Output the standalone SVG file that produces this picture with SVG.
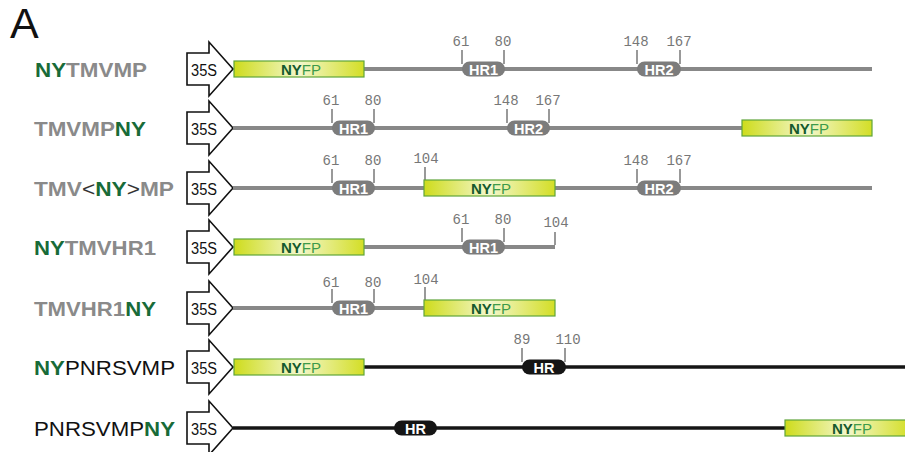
<svg xmlns="http://www.w3.org/2000/svg" width="905" height="452" viewBox="0 0 905 452">
<defs>
<linearGradient id="yfp" x1="0" y1="0" x2="1" y2="0">
<stop offset="0" stop-color="#cedc1c"/>
<stop offset="0.5" stop-color="#f3f7cc"/>
<stop offset="1" stop-color="#d3de26"/>
</linearGradient>
<path id="arrow" d="M187,-16 H209 V-27 L233,0 L209,27 V16 H187 Z"/>
</defs>
<style>
.arr{fill:#fff;stroke:#111;stroke-width:1.6;stroke-linejoin:miter}
.p35{font-family:"Liberation Sans",Arial,sans-serif;font-size:16px;fill:#111}
.lg{stroke:#888;stroke-width:4;fill:none}
.lb{stroke:#151515;stroke-width:3.5;fill:none}
.box{fill:url(#yfp);stroke:#5fa53a;stroke-width:1.2}
.bt{font-family:"Liberation Sans",Arial,sans-serif;font-size:15px;text-anchor:middle;fill:#3d9a4a}
.bt .b{font-weight:bold;fill:#155a2e}
.pg{fill:#7c7c7c}
.pb{fill:#151515}
.pt{font-family:"Liberation Sans",Arial,sans-serif;font-size:14.5px;font-weight:bold;fill:#fff;text-anchor:middle}
.tk{stroke:#555;stroke-width:1.2}
.num{font-family:"Liberation Mono","Courier New",monospace;font-size:14px;fill:#777;text-anchor:middle}
.lab{font-family:"Liberation Sans",Arial,sans-serif;font-size:21px}
.gr{fill:#8a8a8a;font-weight:bold}
.gn{fill:#186b38;font-weight:bold}
.bk{fill:#111}
.dk{fill:#333}
</style>
<text x="10" y="38" font-family="Liberation Sans,Arial,sans-serif" font-size="43" fill="#111">A</text>

<g id="row1" transform="translate(0,69)">
<text class="lab" x="35" y="7.5" textLength="112" lengthAdjust="spacingAndGlyphs"><tspan class="gn">NY</tspan><tspan class="gr">TMVMP</tspan></text>
<use href="#arrow" class="arr"/>
<text class="p35" x="191" y="7" textLength="26" lengthAdjust="spacingAndGlyphs">35S</text>
<line class="lg" x1="364" y1="0" x2="872" y2="0"/>
<rect class="box" x="234" y="-8" width="130" height="16"/>
<text class="bt" x="301" y="5.5"><tspan class="b">NY</tspan>FP</text>
<line class="tk" x1="462" y1="-19" x2="462" y2="-5"/><line class="tk" x1="504" y1="-19" x2="504" y2="-5"/>
<text class="num" x="461" y="-23">61</text><text class="num" x="503" y="-23">80</text>
<rect class="pg" x="462" y="-7.5" width="43" height="15" rx="7.5"/>
<text class="pt" x="483.5" y="5.5">HR1</text>
<line class="tk" x1="637" y1="-19" x2="637" y2="-5"/><line class="tk" x1="680" y1="-19" x2="680" y2="-5"/>
<text class="num" x="636" y="-23">148</text><text class="num" x="679" y="-23">167</text>
<rect class="pg" x="637" y="-7.5" width="44" height="15" rx="7.5"/>
<text class="pt" x="659" y="5.5">HR2</text>
</g>

<g id="row2" transform="translate(0,128)">
<text class="lab" x="34" y="7.5" textLength="112" lengthAdjust="spacingAndGlyphs"><tspan class="gr">TMVMP</tspan><tspan class="gn">NY</tspan></text>
<use href="#arrow" class="arr"/>
<text class="p35" x="191" y="7" textLength="26" lengthAdjust="spacingAndGlyphs">35S</text>
<line class="lg" x1="233" y1="0" x2="742" y2="0"/>
<line class="tk" x1="332" y1="-19" x2="332" y2="-5"/><line class="tk" x1="374" y1="-19" x2="374" y2="-5"/>
<text class="num" x="331" y="-23">61</text><text class="num" x="373" y="-23">80</text>
<rect class="pg" x="332" y="-7.5" width="43" height="15" rx="7.5"/>
<text class="pt" x="353.5" y="5.5">HR1</text>
<line class="tk" x1="507" y1="-19" x2="507" y2="-5"/><line class="tk" x1="549" y1="-19" x2="549" y2="-5"/>
<text class="num" x="506" y="-23">148</text><text class="num" x="548" y="-23">167</text>
<rect class="pg" x="507" y="-7.5" width="43" height="15" rx="7.5"/>
<text class="pt" x="528.5" y="5.5">HR2</text>
<rect class="box" x="742" y="-8" width="130" height="16"/>
<text class="bt" x="809" y="5.5"><tspan class="b">NY</tspan>FP</text>
</g>

<g id="row3" transform="translate(0,188)">
<text class="lab" x="34" y="7.5" textLength="140" lengthAdjust="spacingAndGlyphs"><tspan class="gr">TMV</tspan><tspan class="dk">&lt;</tspan><tspan class="gn">NY</tspan><tspan class="dk">&gt;</tspan><tspan class="gr">MP</tspan></text>
<use href="#arrow" class="arr"/>
<text class="p35" x="191" y="7" textLength="26" lengthAdjust="spacingAndGlyphs">35S</text>
<line class="lg" x1="233" y1="0" x2="872" y2="0"/>
<line class="tk" x1="332" y1="-19" x2="332" y2="-5"/><line class="tk" x1="374" y1="-19" x2="374" y2="-5"/>
<text class="num" x="331" y="-23">61</text><text class="num" x="373" y="-23">80</text>
<rect class="pg" x="332" y="-7.5" width="43" height="15" rx="7.5"/>
<text class="pt" x="353.5" y="5.5">HR1</text>
<line class="tk" x1="425" y1="-21" x2="425" y2="-8"/>
<text class="num" x="426" y="-25">104</text>
<rect class="box" x="424" y="-8" width="131" height="16"/>
<text class="bt" x="491" y="5.5"><tspan class="b">NY</tspan>FP</text>
<line class="tk" x1="637" y1="-19" x2="637" y2="-5"/><line class="tk" x1="680" y1="-19" x2="680" y2="-5"/>
<text class="num" x="636" y="-23">148</text><text class="num" x="679" y="-23">167</text>
<rect class="pg" x="637" y="-7.5" width="44" height="15" rx="7.5"/>
<text class="pt" x="659" y="5.5">HR2</text>
</g>

<g id="row4" transform="translate(0,247)">
<text class="lab" x="34" y="7.5" textLength="122" lengthAdjust="spacingAndGlyphs"><tspan class="gn">NY</tspan><tspan class="gr">TMVHR1</tspan></text>
<use href="#arrow" class="arr"/>
<text class="p35" x="191" y="7" textLength="26" lengthAdjust="spacingAndGlyphs">35S</text>
<line class="lg" x1="364" y1="0" x2="555" y2="0"/>
<rect class="box" x="234" y="-8" width="130" height="16"/>
<text class="bt" x="301" y="5.5"><tspan class="b">NY</tspan>FP</text>
<line class="tk" x1="462" y1="-19" x2="462" y2="-5"/><line class="tk" x1="504" y1="-19" x2="504" y2="-5"/>
<text class="num" x="461" y="-23">61</text><text class="num" x="503" y="-23">80</text>
<rect class="pg" x="462" y="-7.5" width="43" height="15" rx="7.5"/>
<text class="pt" x="483.5" y="5.5">HR1</text>
<line class="tk" x1="555" y1="-15" x2="555" y2="-2"/>
<text class="num" x="556" y="-20">104</text>
</g>

<g id="row5" transform="translate(0,308)">
<text class="lab" x="34" y="7.5" textLength="122" lengthAdjust="spacingAndGlyphs"><tspan class="gr">TMVHR1</tspan><tspan class="gn">NY</tspan></text>
<use href="#arrow" class="arr"/>
<text class="p35" x="191" y="7" textLength="26" lengthAdjust="spacingAndGlyphs">35S</text>
<line class="lg" x1="233" y1="0" x2="424" y2="0"/>
<line class="tk" x1="332" y1="-19" x2="332" y2="-5"/><line class="tk" x1="374" y1="-19" x2="374" y2="-5"/>
<text class="num" x="331" y="-21">61</text><text class="num" x="373" y="-21">80</text>
<rect class="pg" x="332" y="-7.5" width="43" height="15" rx="7.5"/>
<text class="pt" x="353.5" y="5.5">HR1</text>
<line class="tk" x1="425" y1="-21" x2="425" y2="-8"/>
<text class="num" x="426" y="-24">104</text>
<rect class="box" x="424" y="-8" width="131" height="16"/>
<text class="bt" x="491" y="5.5"><tspan class="b">NY</tspan>FP</text>
</g>

<g id="row6" transform="translate(0,367)">
<text class="lab" x="34" y="7.5" textLength="141" lengthAdjust="spacingAndGlyphs"><tspan class="gn">NY</tspan><tspan class="bk">PNRSVMP</tspan></text>
<use href="#arrow" class="arr"/>
<text class="p35" x="191" y="7" textLength="26" lengthAdjust="spacingAndGlyphs">35S</text>
<line class="lb" x1="364" y1="0" x2="905" y2="0"/>
<rect class="box" x="234" y="-8" width="130" height="16"/>
<text class="bt" x="301" y="5.5"><tspan class="b">NY</tspan>FP</text>
<line class="tk" x1="522" y1="-19" x2="522" y2="-5"/><line class="tk" x1="565" y1="-19" x2="565" y2="-5"/>
<text class="num" x="522" y="-23">89</text><text class="num" x="568" y="-23">110</text>
<rect class="pb" x="522" y="-7.5" width="44" height="15" rx="7.5"/>
<text class="pt" x="544" y="5.5">HR</text>
</g>

<g id="row7" transform="translate(0,428)">
<text class="lab" x="34" y="7.5" textLength="141" lengthAdjust="spacingAndGlyphs"><tspan class="bk">PNRSVMP</tspan><tspan class="gn">NY</tspan></text>
<use href="#arrow" class="arr"/>
<text class="p35" x="191" y="7" textLength="26" lengthAdjust="spacingAndGlyphs">35S</text>
<line class="lb" x1="233" y1="0" x2="785" y2="0"/>
<rect class="pb" x="394" y="-7.5" width="43" height="15" rx="7.5"/>
<text class="pt" x="415.5" y="5.5">HR</text>
<rect class="box" x="785" y="-8" width="125" height="16"/>
<text class="bt" x="852" y="5.5"><tspan class="b">NY</tspan>FP</text>
</g>
</svg>
